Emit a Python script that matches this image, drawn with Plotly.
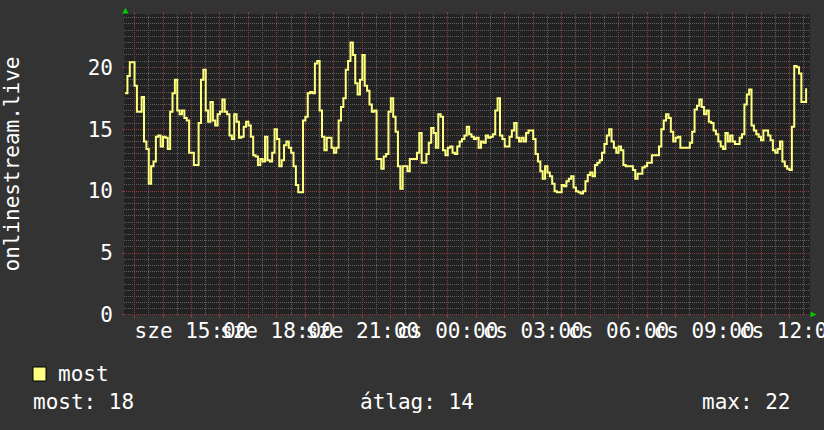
import math
import pandas as pd
import plotly.graph_objects as go

# ---- data (5-minute samples) ----
start_time = "2024-05-15 12:40"   # Wednesday (sze)
step = "5min"
values = [
    17.9, 19.3, 20.4, 20.4, 18.5, 16.4, 16.4, 17.6, 14.0, 13.4,
    10.6, 12.0, 12.4, 14.4, 14.5, 13.6, 14.4, 14.3, 13.4, 16.4,
    17.9, 19.0, 16.5, 16.2, 16.5, 15.9, 15.7, 13.1, 13.1, 12.1,
    12.1, 15.5, 19.0, 19.8, 16.5, 15.6, 17.2, 15.7, 15.3, 16.2,
    16.4, 17.4, 16.4, 16.2, 14.5, 14.2, 16.2, 15.6, 14.3, 14.4,
    15.2, 15.6, 15.3, 14.4, 12.9, 12.8, 12.1, 12.6, 12.4, 14.4,
    12.5, 12.4, 13.1, 15.0, 14.2, 12.0, 12.5, 13.7, 14.0, 13.5,
    13.1, 12.0, 10.5, 9.9, 9.9, 15.7, 16.0, 17.9, 18.0, 17.9,
    20.3, 20.5, 16.5, 14.4, 13.3, 14.3, 14.3, 13.5, 13.1, 13.5,
    15.7, 16.8, 17.5, 19.8, 20.5, 22.0, 21.0, 18.7, 17.8, 19.0,
    21.0, 18.5, 18.1, 17.0, 16.4, 16.5, 12.6, 12.6, 11.8, 12.8,
    13.0, 16.4, 17.5, 16.0, 14.8, 12.0, 10.2, 12.0, 12.0, 11.6,
    12.6, 12.6, 12.6, 13.1, 14.7, 12.3, 12.3, 13.0, 13.9, 15.1,
    14.7, 13.5, 16.2, 16.0, 13.3, 12.9, 13.5, 13.6, 13.1, 13.0,
    13.6, 14.0, 14.2, 14.5, 15.2, 14.6, 14.4, 14.2, 14.3, 13.5,
    14.0, 13.9, 14.5, 14.3, 14.4, 14.6, 16.5, 17.5, 14.5, 14.2,
    13.6, 13.6, 14.4, 14.9, 15.5, 14.3, 14.0, 14.3, 14.0, 14.7,
    14.9, 14.9, 14.2, 13.0, 12.4, 11.6, 11.0, 12.0, 11.5, 11.2,
    10.6, 10.0, 9.9, 9.9, 10.5, 10.4, 10.8, 11.0, 11.2, 10.3,
    10.0, 9.9, 9.8, 10.0, 10.8, 11.3, 11.5, 11.2, 12.1, 12.3,
    12.5, 13.1, 13.8, 14.5, 15.0, 14.0, 13.5, 13.1, 13.6, 13.3,
    12.1, 12.0, 12.0, 12.0, 11.7, 11.0, 11.4, 11.4, 11.9, 12.0,
    12.3, 12.3, 12.9, 12.9, 12.9, 13.6, 15.0, 15.7, 16.2, 15.9,
    14.8, 14.0, 14.3, 14.4, 13.5, 13.5, 13.5, 13.5, 13.9, 14.8,
    16.6, 16.9, 17.4, 16.8, 16.2, 16.5, 15.6, 15.5, 14.9, 14.6,
    14.0, 13.6, 13.4, 14.7, 14.0, 14.5, 14.0, 13.8, 13.8, 14.3,
    14.6, 17.0, 17.8, 18.2, 15.3, 14.9, 14.6, 14.4, 14.1, 14.9,
    14.9, 14.5, 14.1, 13.3, 13.1, 13.4, 14.0, 12.4, 12.0, 11.8,
    11.7, 15.2, 20.1, 20.0, 19.5, 17.2, 17.2, 18.3,
]
series_name = "most"
axis_title = "onlinestream.live"
x_range = ["2024-05-15 12:37:48", "2024-05-16 12:43:12"]
y_range = [0, 24.3]
y_tickvals = [0, 5, 10, 15, 20]
y_minor_vals = [k * 0.5 for k in range(49) if k % 10 != 0]
hour_ticks = pd.date_range("2024-05-15 13:00", "2024-05-16 12:00", freq="1h")
half_hour_ticks = pd.date_range("2024-05-15 12:30", "2024-05-16 12:30", freq="1h")
label_hours = {15: "sze 15:00", 18: "sze 18:00", 21: "sze 21:00", 0: "cs 00:00",
               3: "cs 03:00", 6: "cs 06:00", 9: "cs 09:00", 12: "cs 12:00"}
stat_labels = ["most: 18", "átlag: 14", "max: 22"]

times = pd.date_range(start_time, periods=len(values), freq=step)
x_ticktext = [label_hours.get(t.hour, "") if (t.hour % 3 == 0 and not (t.day == 15 and t.hour == 12)) else ""
              for t in hour_ticks]

# ---- style ----
FONT = "DejaVu Sans Mono"
FS = 21
BG = "#333333"
CANVAS = "#222222"
MINOR = "#5e5e5e"
MAJOR = "#8a3e3e"
LINE = "#ffff80"
DOT = "1px,1px"
W, H = 824, 430
L, R, T, B = 124, 14, 14, 115
pw, ph = W - L - R, H - T - B

t0 = pd.Timestamp(x_range[0])
t1 = pd.Timestamp(x_range[1])


def px(xp):
    return (xp - L) / pw


def py(yp):
    return (H - B - yp) / ph


def x_pixel(ts):
    return L + (pd.Timestamp(ts) - t0) / (t1 - t0) * pw


def y_pixel(v):
    return T + (1 - (v - y_range[0]) / (y_range[1] - y_range[0])) * ph


def snap(p):
    return math.floor(p) + 0.5


fig = go.Figure()
fig.add_trace(go.Scatter(x=times, y=values, mode="lines", name=series_name,
                         line=dict(color=LINE, width=2, shape="hv"),
                         hoverinfo="x+y"))

# ---- grid drawn as pixel-aligned dotted lines (positions from the axis scales) ----
shapes = []
for v in y_minor_vals:
    yy = py(snap(y_pixel(v)))
    shapes.append(dict(type="line", xref="paper", yref="paper", x0=0, x1=1, y0=yy, y1=yy,
                       layer="below", line=dict(color=MINOR, width=1, dash=DOT)))
for ts in half_hour_ticks:
    xp = x_pixel(ts)
    if L <= xp <= L + pw:
        xx = px(snap(xp))
        shapes.append(dict(type="line", xref="paper", yref="paper", x0=xx, x1=xx, y0=0, y1=1,
                           layer="below", line=dict(color=MINOR, width=1, dash=DOT)))
for v in y_tickvals:
    yy = py(snap(y_pixel(v)) - (1 if v == y_range[0] else 0))
    shapes.append(dict(type="line", xref="paper", yref="paper", x0=0, x1=1, y0=yy, y1=yy,
                       layer="below", line=dict(color=MAJOR, width=1, dash=DOT)))
    shapes.append(dict(type="line", xref="paper", yref="paper", x0=px(L - 2), x1=0, y0=yy, y1=yy,
                       layer="below", line=dict(color=MAJOR, width=1)))
for ts in hour_ticks:
    xx = px(snap(x_pixel(ts)))
    shapes.append(dict(type="line", xref="paper", yref="paper", x0=xx, x1=xx, y0=0, y1=1,
                       layer="below", line=dict(color=MAJOR, width=1, dash=DOT)))
    shapes.append(dict(type="line", xref="paper", yref="paper", x0=xx, x1=xx,
                       y0=py(T + ph + 3), y1=py(T + ph), layer="below",
                       line=dict(color=MAJOR, width=1)))
    shapes.append(dict(type="line", xref="paper", yref="paper", x0=xx, x1=xx,
                       y0=py(T), y1=py(T - 2), layer="below",
                       line=dict(color=MAJOR, width=1)))

# legend swatch
shapes.append(dict(type="rect", xref="paper", yref="paper",
                   x0=px(33), x1=px(46), y0=py(381), y1=py(367),
                   fillcolor=LINE, line=dict(color="#000000", width=1)))
# green axis arrows
shapes.append(dict(type="path", xref="paper", yref="paper",
                   path=f"M {px(122.3)} {py(13.5)} L {px(128.5)} {py(13.5)} L {px(125.4)} {py(7.8)} Z",
                   fillcolor="#00cc00", line=dict(color="#00cc00", width=0)))
shapes.append(dict(type="path", xref="paper", yref="paper",
                   path=f"M {px(810.5)} {py(311.8)} L {px(810.5)} {py(317.2)} L {px(816.5)} {py(314.5)} Z",
                   fillcolor="#00cc00", line=dict(color="#00cc00", width=0)))

fig.update_layout(
    width=W, height=H,
    margin=dict(l=L, r=R, t=T, b=B, autoexpand=False),
    paper_bgcolor=BG, plot_bgcolor=CANVAS,
    showlegend=False,
    font=dict(family=FONT, size=FS, color="#ffffff"),
    shapes=shapes,
)
fig.update_xaxes(
    type="date", range=x_range, automargin=False, tickangle=0,
    tickmode="array", tickvals=list(hour_ticks), ticktext=x_ticktext,
    showgrid=False, ticks="", ticklabeloverflow="allow", ticklabelstandoff=1,
    tickfont=dict(family=FONT, size=FS, color="#ffffff"),
    zeroline=False, showline=False, fixedrange=True,
)
fig.update_yaxes(
    range=y_range, automargin=False, tickmode="array", tickvals=y_tickvals,
    showgrid=False, ticks="", ticklabelstandoff=10,
    tickfont=dict(family=FONT, size=FS, color="#ffffff"),
    zeroline=False, showline=False, fixedrange=True,
)

# axis title (rotated)
fig.add_annotation(text=axis_title, xref="paper", yref="paper", x=px(11), y=0.5,
                   textangle=-90, showarrow=False, xanchor="center", yanchor="middle",
                   font=dict(family=FONT, size=FS, color="#ffffff"))

# legend texts
fig.add_annotation(text=series_name, xref="paper", yref="paper", x=px(56), y=py(374),
                   xanchor="left", yanchor="middle", showarrow=False,
                   font=dict(family=FONT, size=FS, color="#ffffff"))
for txt, xp in zip(stat_labels, [31, 358, 700]):
    fig.add_annotation(text=txt, xref="paper", yref="paper", x=px(xp), y=py(402),
                       xanchor="left", yanchor="middle", showarrow=False,
                       font=dict(family=FONT, size=FS, color="#ffffff"))

fig.write_html("out.html", config={"displayModeBar": False},
               post_script="document.body.style.margin='0';document.body.style.background='#333333';")
